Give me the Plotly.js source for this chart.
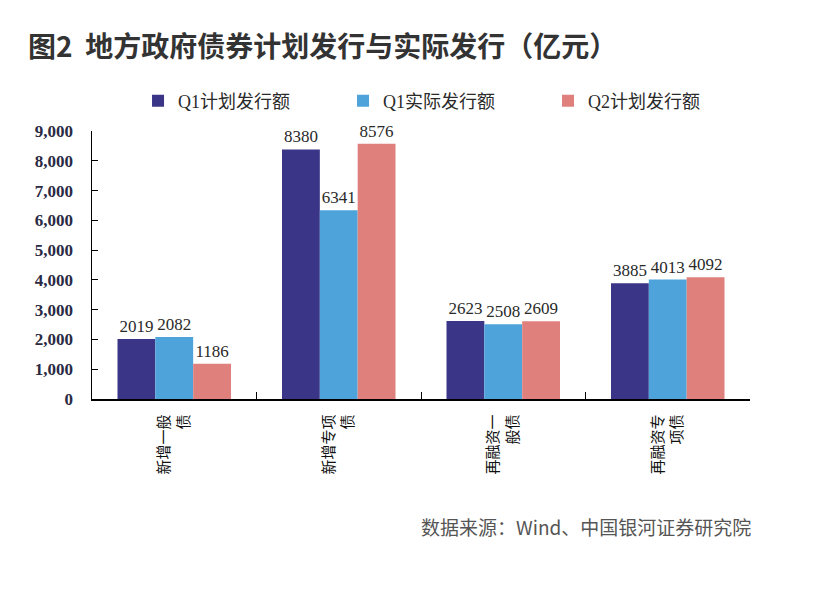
<!DOCTYPE html>
<html>
<head>
<meta charset="utf-8">
<script src="https://cdn.plot.ly/plotly-3.0.1.min.js"></script>
<style>
html,body{margin:0;padding:0;background:#fff;}
#chart{width:828px;height:606px;}
</style>
</head>
<body>
<div id="chart"></div>
<script>
const categories = ["新增一般<br>债", "新增专项<br>债", "再融资一<br>般债", "再融资专<br>项债"];
const seriesNames = ["Q1计划发行额", "Q1实际发行额", "Q2计划发行额"];
const q1Plan = [2019, 8380, 2623, 3885];
const q1Actual = [2082, 6341, 2508, 4013];
const q2Plan = [1186, 8576, 2609, 4092];
const colors = ["#3b3587", "#4ea4da", "#e0807d"];

const serif = "Liberation Serif, 'Noto Sans CJK SC', serif";
const values = [q1Plan, q1Actual, q2Plan];
const traces = values.map((v, i) => ({
  type: "bar",
  name: seriesNames[i],
  x: categories,
  y: v,
  marker: {color: colors[i]},
  text: v.map(String),
  textposition: "outside",
  cliponaxis: false,
  textfont: {family: serif, size: 17, color: "#2a2a2a"}
}));

const layout = {
  width: 828, height: 606,
  margin: {l: 92, r: 78, t: 131, b: 207},
  paper_bgcolor: "#fff", plot_bgcolor: "#fff",
  barmode: "group",
  bargap: 0.31,
  bargroupgap: 0,
  showlegend: true,
  legend: {orientation: "h", xref: "container", yref: "container", x: 0.1667, y: 1 - 101/606,
    xanchor: "left", yanchor: "middle", bgcolor: "rgba(0,0,0,0)",
    font: {family: serif, size: 18, color: "#2a2a2a"}, tracegroupgap: 0,
    entrywidth: 160, itemsizing: "constant", itemwidth: 30},
  xaxis: {
    showline: true, linecolor: "#000", linewidth: 1.5,
    ticks: "inside", tickson: "boundaries", ticklen: 7, tickcolor: "#000",
    tickangle: -90, ticklabelstandoff: 8,
    tickfont: {family: "'Noto Sans CJK SC', sans-serif", size: 15, color: "#111"},
    showgrid: false, zeroline: false
  },
  yaxis: {
    range: [0, 9000], dtick: 1000, tickformat: ",d",
    showline: true, linecolor: "#000", linewidth: 1.5,
    ticks: "inside", ticklen: 6, tickcolor: "#000", ticklabelstandoff: 14,
    tickfont: {family: serif, size: 17, color: "#2a2a44", weight: "bold"},
    showgrid: false, zeroline: false
  },
  annotations: [
    {text: "<b>图2  地方政府债券计划发行与实际发行（亿元）</b>", xref: "paper", yref: "paper",
     x: -0.1, y: 1.32, xanchor: "left", yanchor: "middle", showarrow: false,
     font: {family: "'Noto Sans CJK SC', sans-serif", size: 28, color: "#333"}},
    {text: "数据来源：Wind、中国银河证券研究院", xref: "paper", yref: "paper",
     x: 1.005, y: -0.475, xanchor: "right", yanchor: "middle", showarrow: false,
     font: {family: "'Noto Sans CJK SC', sans-serif", size: 19, color: "#555"}}
  ]
};

Plotly.newPlot("chart", traces, layout, {displayModeBar: false, staticPlot: true});
</script>
</body>
</html>
